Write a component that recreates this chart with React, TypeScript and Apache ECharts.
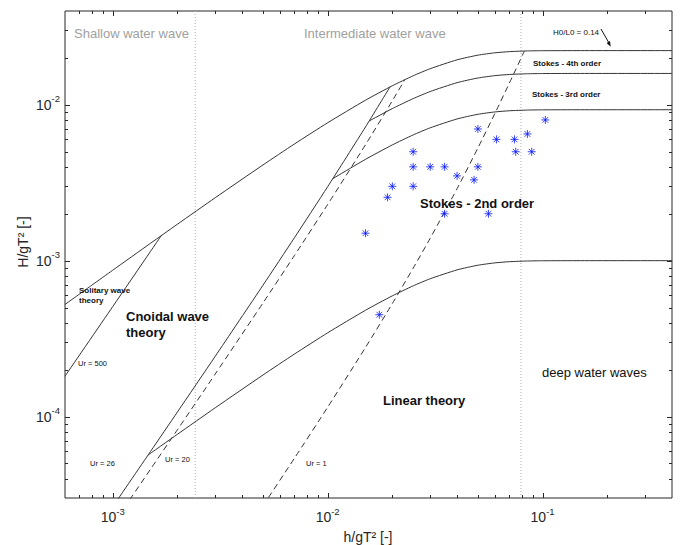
import React, { useEffect, useRef } from "react";
import * as echarts from "echarts";

const X_MIN = 6e-4;
const X_MAX = 0.4;
const Y_MIN = 3e-5;
const Y_MAX = 0.04;

const shallowLimit = 0.00242;
const deepLimit = 0.0793;

// theory boundaries: [h/gT², H/gT²]
const breakingLimit = [
  [6e-4, 5.236e-4], [8e-4, 6.963e-4], [1e-3, 8.68e-4], [1.5e-3, 1.2934e-3], [2e-3, 1.7129e-3],
  [3e-3, 2.535e-3], [5e-3, 4.112e-3], [7e-3, 5.601e-3], [0.01, 7.671e-3], [0.015, 1.0708e-2],
  [0.02, 1.3256e-2], [0.025, 1.5358e-2], [0.03, 1.7055e-2], [0.04, 1.9444e-2], [0.05, 2.0827e-2],
  [0.06, 2.1569e-2], [0.07, 2.1943e-2], [0.085, 2.2173e-2], [0.1, 2.2247e-2], [0.15, 2.2279e-2], [0.4, 2.228e-2],
];
const stokes4Boundary = [
  [0.01561, 7.88e-3], [0.02, 9.46e-3], [0.025, 1.096e-2], [0.03, 1.2171e-2], [0.04, 1.3876e-2],
  [0.05, 1.4863e-2], [0.06, 1.5392e-2], [0.07, 1.566e-2], [0.085, 1.5824e-2], [0.1, 1.5876e-2],
  [0.15, 1.59e-2], [0.4, 1.59e-2],
];
const stokes3Boundary = [
  [0.01057, 3.36e-3], [0.015, 4.47e-3], [0.02, 5.533e-3], [0.025, 6.411e-3], [0.03, 7.119e-3],
  [0.04, 8.116e-3], [0.05, 8.694e-3], [0.06, 9.003e-3], [0.07, 9.159e-3], [0.085, 9.255e-3],
  [0.1, 9.286e-3], [0.15, 9.3e-3], [0.4, 9.3e-3],
];
const linearBoundary = [
  [1.46e-3, 5.656e-5], [2e-3, 7.688e-5], [3e-3, 1.1378e-4], [5e-3, 1.8457e-4], [7e-3, 2.514e-4],
  [0.01, 3.4429e-4], [0.015, 4.806e-4], [0.02, 5.9495e-4], [0.025, 6.893e-4], [0.03, 7.6547e-4],
  [0.04, 8.7269e-4], [0.05, 9.348e-4], [0.06, 9.681e-4], [0.07, 9.8488e-4], [0.085, 9.952e-4],
  [0.1, 9.9852e-4], [0.15, 1e-3], [0.4, 1e-3],
];
const ursell500 = [[6e-4, 1.8143e-4], [1e-3, 5.0667e-4], [1.5e-3, 1.1476e-3], [1.682e-3, 1.4468e-3]];
const ursell26 = [
  [1e-3, 2.635e-5], [1.5e-3, 5.968e-5], [2e-3, 1.0681e-4], [3e-3, 2.4356e-4], [5e-3, 6.9515e-4],
  [7e-3, 1.4004e-3], [0.01, 2.9813e-3], [0.015, 7.208e-3], [0.0195, 1.302e-2],
];
const ursell20 = [
  [1.2e-3, 2.926e-5], [1.5e-3, 4.59e-5], [2e-3, 8.216e-5], [3e-3, 1.8736e-4], [5e-3, 5.347e-4],
  [7e-3, 1.0773e-3], [0.01, 2.2933e-3], [0.015, 5.545e-3], [0.02, 1.0617e-2], [0.02288, 1.4535e-2],
];
const ursell1 = [
  [5e-3, 2.674e-5], [7e-3, 5.386e-5], [0.01, 1.1467e-4], [0.015, 2.7723e-4], [0.02, 5.3084e-4],
  [0.025, 8.949e-4], [0.03, 1.3925e-3], [0.04, 2.8952e-3], [0.05, 5.279e-3], [0.06, 8.8085e-3],
  [0.07, 1.3749e-2], [0.0823, 2.215e-2],
];

const measuredWaves = [
  [0.05, 0.007], [0.061, 0.006], [0.074, 0.006], [0.085, 0.0065], [0.103, 0.008],
  [0.075, 0.005], [0.089, 0.005], [0.025, 0.005], [0.025, 0.004], [0.03, 0.004],
  [0.035, 0.004], [0.05, 0.004], [0.04, 0.0035], [0.048, 0.0033], [0.02, 0.003],
  [0.025, 0.003], [0.019, 0.00255], [0.035, 0.002], [0.056, 0.002], [0.015, 0.0015],
  [0.0174, 0.00045],
];

const xMajorTicks = [1e-3, 1e-2, 1e-1];
const xMinorTicks = [
  7e-4, 8e-4, 9e-4, 2e-3, 3e-3, 4e-3, 5e-3, 6e-3, 7e-3, 8e-3, 9e-3,
  0.02, 0.03, 0.04, 0.05, 0.06, 0.07, 0.08, 0.09, 0.2, 0.3,
];
const yMajorTicks = [1e-4, 1e-3, 1e-2];
const yMinorTicks = [
  4e-5, 5e-5, 6e-5, 7e-5, 8e-5, 9e-5, 2e-4, 3e-4, 4e-4, 5e-4, 6e-4, 7e-4, 8e-4, 9e-4,
  2e-3, 3e-3, 4e-3, 5e-3, 6e-3, 7e-3, 8e-3, 9e-3, 0.02, 0.03,
];

const FONT = '"Liberation Sans", Arial, Helvetica, sans-serif';
const AXIS_COLOR = "#262626";
const CURVE_COLOR = "#333333";
const GRAY_TEXT = "#a0a0a0";

function powLabel(v: number) {
  const e = Math.log10(v);
  const r = Math.round(e);
  if (Math.abs(e - r) > 1e-6) return "";
  return `{b|10}{s|${r}}`;
}

const labelRich = {
  b: { fontSize: 14, color: AXIS_COLOR, fontFamily: FONT },
  s: { fontSize: 9.5, color: AXIS_COLOR, fontFamily: FONT, padding: [0, 0, 12, 0] },
};

function txt(text: string, x: number, y: number, size: number, opts: any = {}) {
  return {
    type: "text",
    x,
    y,
    z: 100,
    rotation: opts.rotation || 0,
    style: {
      text,
      fill: opts.color || "#111",
      fontSize: size,
      fontWeight: opts.bold ? "bold" : "normal",
      fontFamily: FONT,
      align: opts.align || "left",
      verticalAlign: "middle",
    },
  };
}

function curve(data: number[][], dashed = false) {
  return {
    type: "line",
    data,
    showSymbol: false,
    symbol: "none",
    smooth: 0.2,
    silent: true,
    clip: true,
    lineStyle: {
      color: CURVE_COLOR,
      width: 1,
      type: dashed ? [6, 4] : "solid",
    },
    z: 3,
  };
}

export default function App() {
  const ref = useRef<HTMLDivElement>(null);

  useEffect(() => {
    document.body.style.margin = "0";
    if (!ref.current) return;
    const chart = echarts.init(ref.current, undefined, { renderer: "svg" });

    const xTickData = [
      ...xMajorTicks.map((v) => [v, Y_MIN, 1]),
      ...xMinorTicks.map((v) => [v, Y_MIN, 0]),
    ];
    const yTickData = [
      ...yMajorTicks.map((v) => [X_MIN, v, 1]),
      ...yMinorTicks.map((v) => [X_MIN, v, 0]),
    ];

    const option: any = {
      animation: false,
      backgroundColor: "#ffffff",
      grid: {
        left: 65,
        right: 8,
        top: 11,
        bottom: 47,
        show: true,
        borderColor: AXIS_COLOR,
        borderWidth: 1,
        backgroundColor: "transparent",
        containLabel: false,
      },
      xAxis: {
        type: "log",
        logBase: 10,
        min: X_MIN,
        max: X_MAX,
        axisLine: { show: false },
        axisTick: { show: false },
        splitLine: { show: false },
        axisLabel: {
          interval: 0,
          margin: 8,
          formatter: powLabel,
          rich: labelRich,
        },
      },
      yAxis: {
        type: "log",
        logBase: 10,
        min: Y_MIN,
        max: Y_MAX,
        axisLine: { show: false },
        axisTick: { show: false },
        splitLine: { show: false },
        axisLabel: {
          interval: 0,
          margin: 5,
          formatter: powLabel,
          rich: labelRich,
        },
      },
      series: [
        {
          type: "line",
          data: [[shallowLimit, Y_MIN], [shallowLimit, Y_MAX]],
          showSymbol: false,
          symbol: "none",
          silent: true,
          lineStyle: { color: "#b0b0b0", width: 1, type: [1, 2] },
          z: 1,
        },
        {
          type: "line",
          data: [[deepLimit, Y_MIN], [deepLimit, Y_MAX]],
          showSymbol: false,
          symbol: "none",
          silent: true,
          lineStyle: { color: "#b0b0b0", width: 1, type: [1, 2] },
          z: 1,
        },
        curve(breakingLimit),
        curve(stokes4Boundary),
        curve(stokes3Boundary),
        curve(linearBoundary),
        curve(ursell500),
        curve(ursell26),
        curve(ursell20, true),
        curve(ursell1, true),
        {
          type: "scatter",
          data: measuredWaves,
          symbol:
            "path://M0 -10 L0 10 M-10 0 L10 0 M-7.07 -7.07 L7.07 7.07 M-7.07 7.07 L7.07 -7.07",
          symbolSize: 8,
          silent: true,
          itemStyle: { color: "rgba(0,0,0,0)", borderColor: "#0a1aff", borderWidth: 1 },
          z: 5,
        },
        {
          type: "custom",
          data: xTickData,
          silent: true,
          z: 10,
          renderItem: (params: any, api: any) => {
            const v = api.value(0);
            const len = api.value(2) ? 5 : 3;
            const b = api.coord([v, Y_MIN]);
            const t = api.coord([v, Y_MAX]);
            const x = Math.round(b[0]) + 0.5;
            return {
              type: "group",
              children: [
                { type: "line", shape: { x1: x, y1: b[1], x2: x, y2: b[1] - len }, style: { stroke: AXIS_COLOR, lineWidth: 1 } },
                { type: "line", shape: { x1: x, y1: t[1], x2: x, y2: t[1] + len }, style: { stroke: AXIS_COLOR, lineWidth: 1 } },
              ],
            };
          },
        },
        {
          type: "custom",
          data: yTickData,
          silent: true,
          z: 10,
          renderItem: (params: any, api: any) => {
            const v = api.value(1);
            const len = api.value(2) ? 5 : 3;
            const l = api.coord([X_MIN, v]);
            const r = api.coord([X_MAX, v]);
            const y = Math.round(l[1]) + 0.5;
            return {
              type: "group",
              children: [
                { type: "line", shape: { x1: l[0], y1: y, x2: l[0] + len, y2: y }, style: { stroke: AXIS_COLOR, lineWidth: 1 } },
                { type: "line", shape: { x1: r[0], y1: y, x2: r[0] - len, y2: y }, style: { stroke: AXIS_COLOR, lineWidth: 1 } },
              ],
            };
          },
        },
      ],
      graphic: {
        elements: [
          txt("Shallow water wave", 74, 33, 13, { color: GRAY_TEXT }),
          txt("Intermediate water wave", 304, 33, 13, { color: GRAY_TEXT }),
          txt("H0/L0 = 0.14", 553, 32, 8),
          {
            type: "line",
            z: 100,
            shape: { x1: 601, y1: 29, x2: 609, y2: 43 },
            style: { stroke: "#111", lineWidth: 1 },
          },
          {
            type: "polygon",
            z: 100,
            shape: { points: [[610.7, 46.7], [606.6, 42.9], [610.0, 41.1]] },
            style: { fill: "#111" },
          },
          txt("Stokes - 4th order", 533, 63, 8, { bold: true }),
          txt("Stokes - 3rd order", 532, 94, 8, { bold: true }),
          txt("Stokes - 2nd order", 420, 203, 13, { bold: true }),
          txt("Solitary wave", 79, 290, 8, { bold: true }),
          txt("theory", 79, 300, 8, { bold: true }),
          txt("Cnoidal wave", 126, 316, 13, { bold: true }),
          txt("theory", 126, 332, 13, { bold: true }),
          txt("Ur = 500", 78, 363, 7.5),
          txt("Ur = 26", 90, 463, 7.5),
          txt("Ur = 20", 165, 459, 7.5),
          txt("Ur = 1", 306, 463, 7.5),
          txt("Linear theory", 383, 400, 13, { bold: true }),
          txt("deep water waves", 542, 372, 13),
          txt("h/gT² [-]", 368, 537, 14, { color: AXIS_COLOR, align: "center" }),
          txt("H/gT² [-]", 23, 242, 14, { color: AXIS_COLOR, align: "center", rotation: Math.PI / 2 }),
        ],
      },
    };

    chart.setOption(option);
    return () => {
      chart.dispose();
    };
  }, []);

  return <div ref={ref} style={{ width: 680, height: 545 }} />;
}
